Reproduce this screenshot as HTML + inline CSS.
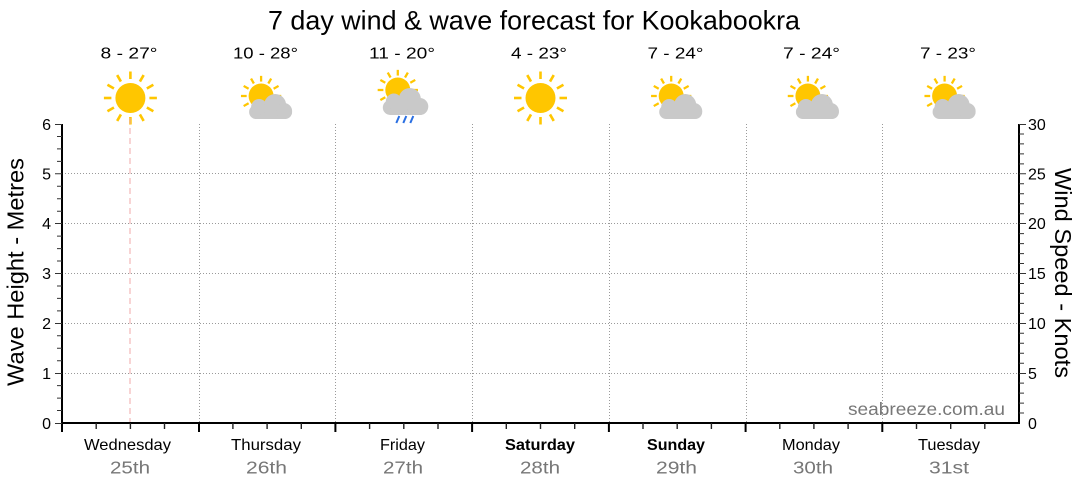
<!DOCTYPE html>
<html>
<head>
<meta charset="utf-8">
<style>
html,body{margin:0;padding:0;background:#fff;}
svg{display:block;}
text{font-family:"Liberation Sans",Arial,sans-serif;}
</style>
</head>
<body>
<svg width="1080" height="490" viewBox="0 0 1080 490" xmlns="http://www.w3.org/2000/svg">
<defs>
  <g id="rays">
    <line x1="0" y1="-19" x2="0" y2="-26.5"/>
    <line x1="0" y1="-19" x2="0" y2="-26.5" transform="rotate(30)"/>
    <line x1="0" y1="-19" x2="0" y2="-26.5" transform="rotate(60)"/>
    <line x1="0" y1="-19" x2="0" y2="-26.5" transform="rotate(90)"/>
    <line x1="0" y1="-19" x2="0" y2="-26.5" transform="rotate(120)"/>
    <line x1="0" y1="-19" x2="0" y2="-26.5" transform="rotate(150)"/>
    <line x1="0" y1="-19" x2="0" y2="-26.5" transform="rotate(180)"/>
    <line x1="0" y1="-19" x2="0" y2="-26.5" transform="rotate(210)"/>
    <line x1="0" y1="-19" x2="0" y2="-26.5" transform="rotate(240)"/>
    <line x1="0" y1="-19" x2="0" y2="-26.5" transform="rotate(270)"/>
    <line x1="0" y1="-19" x2="0" y2="-26.5" transform="rotate(300)"/>
    <line x1="0" y1="-19" x2="0" y2="-26.5" transform="rotate(330)"/>
  </g>
  <g id="sun">
    <g stroke="#ffc600" stroke-width="2.6"><use href="#rays"/></g>
    <circle cx="0" cy="0" r="15" fill="#ffc600"/>
  </g>
  <g id="smallsun">
    <g transform="scale(0.76)" stroke="#ffc600" stroke-width="3"><use href="#rays"/></g>
    <circle cx="0" cy="0" r="12.5" fill="#ffc600"/>
  </g>
  <g id="partly">
    <use href="#smallsun" transform="translate(-6,96)"/>
    <g fill="#c9c9c9">
      <rect x="-18" y="105" width="43" height="14" rx="7"/>
      <circle cx="-8" cy="107" r="8"/>
      <circle cx="8" cy="105" r="11"/>
      <circle cx="17" cy="111" r="8"/>
    </g>
  </g>
  <g id="rain">
    <use href="#smallsun" transform="translate(-6,90)"/>
    <g fill="#c9c9c9">
      <rect x="-21" y="100" width="45" height="15" rx="7.5"/>
      <circle cx="-10" cy="101.5" r="8"/>
      <circle cx="6" cy="99" r="11"/>
      <circle cx="16" cy="106.5" r="8.5"/>
    </g>
    <g stroke="#2a6fe2" stroke-width="2">
      <line x1="-4.5" y1="116" x2="-7.5" y2="123"/>
      <line x1="2.5" y1="116" x2="-0.5" y2="123"/>
      <line x1="9.5" y1="116" x2="6.5" y2="123"/>
    </g>
  </g>
</defs>

<!-- Title -->
<text x="534" y="29.5" font-size="26.5" text-anchor="middle" textLength="532" lengthAdjust="spacingAndGlyphs" fill="#000">7 day wind &amp; wave forecast for Kookabookra</text>

<!-- Temps -->
<g font-size="16" fill="#000" text-anchor="middle">
  <text x="129" y="58.5" textLength="57" lengthAdjust="spacingAndGlyphs">8 - 27°</text>
  <text x="265.5" y="58.5" textLength="65" lengthAdjust="spacingAndGlyphs">10 - 28°</text>
  <text x="402" y="58.5" textLength="66" lengthAdjust="spacingAndGlyphs">11 - 20°</text>
  <text x="539" y="58.5" textLength="56" lengthAdjust="spacingAndGlyphs">4 - 23°</text>
  <text x="675.5" y="58.5" textLength="56" lengthAdjust="spacingAndGlyphs">7 - 24°</text>
  <text x="811.5" y="58.5" textLength="57" lengthAdjust="spacingAndGlyphs">7 - 24°</text>
  <text x="948" y="58.5" textLength="56" lengthAdjust="spacingAndGlyphs">7 - 23°</text>
</g>

<!-- Icons -->
<use href="#sun" transform="translate(130.4,98)"/>
<use href="#partly" transform="translate(267.1,0)"/>
<use href="#rain" transform="translate(403.8,0)"/>
<use href="#sun" transform="translate(540.5,98)"/>
<use href="#partly" transform="translate(677.2,0)"/>
<use href="#partly" transform="translate(813.9,0)"/>
<use href="#partly" transform="translate(950.6,0)"/>

<!-- Grid -->
<g stroke="#9a9a9a" stroke-width="1" stroke-dasharray="1,2" fill="none">
  <path d="M62 373.5H1019M62 323.5H1019M62 273.5H1019M62 223.5H1019M62 173.5H1019"/>
  <path d="M199.5 124V423M335.5 124V423M472.5 124V423M609.5 124V423M746.5 124V423M882.5 124V423"/>
</g>

<!-- Pink dashed current line -->
<line x1="130" y1="118" x2="130" y2="423" stroke="#f2a9a9" stroke-width="1" stroke-dasharray="6,4"/>

<!-- Axes -->
<g stroke="#000" stroke-width="2" fill="none">
  <path d="M62 124V432"/>
  <path d="M1019 124V424"/>
  <path d="M61 423H1020"/>
  <path d="M199 423V432M335.4 423V432M472.1 423V432M608.9 423V432M745.6 423V432M882.3 423V432"/>
</g>
<g stroke="#222" stroke-width="1.4" fill="none">
  <!-- x minor ticks -->
  <path d="M96.2 423V429M130.4 423V429M164.5 423V429M232.9 423V429M267.1 423V429M301.3 423V429M369.6 423V429M403.8 423V429M438 423V429M506.3 423V429M540.5 423V429M574.7 423V429M643 423V429M677.2 423V429M711.4 423V429M779.8 423V429M813.9 423V429M848.1 423V429M916.5 423V429M950.7 423V429M984.8 423V429"/>
</g>
<g stroke="#333" stroke-width="1" fill="none">
  <!-- left ticks -->
  <path d="M55 423.5H62M55 373.5H62M55 323.5H62M55 273.5H62M55 223.5H62M55 173.8H62M55 124.5H62"/>
  <path d="M57 410.5H62M57 398.1H62M57 385.6H62M57 360.7H62M57 348.3H62M57 335.8H62M57 310.9H62M57 298.4H62M57 286H62M57 261H62M57 248.6H62M57 236.1H62M57 211.2H62M57 198.8H62M57 186.3H62M57 161.4H62M57 148.9H62M57 136.5H62"/>
  <!-- right ticks -->
  <path d="M1019 373.5H1026M1019 323.5H1026M1019 273.5H1026M1019 223.5H1026M1019 173.8H1026M1019 124.5H1026"/>
  <path d="M1019 413H1024M1019 403.1H1024M1019 393.1H1024M1019 383.1H1024M1019 363.2H1024M1019 353.2H1024M1019 343.3H1024M1019 333.3H1024M1019 313.4H1024M1019 303.4H1024M1019 293.4H1024M1019 283.5H1024M1019 263.5H1024M1019 253.6H1024M1019 243.6H1024M1019 233.6H1024M1019 213.7H1024M1019 203.7H1024M1019 193.8H1024M1019 183.8H1024M1019 163.9H1024M1019 153.9H1024M1019 143.9H1024M1019 134H1024"/>
</g>

<!-- Left tick labels -->
<g font-size="16" fill="#000" text-anchor="end">
  <text x="51" y="429">0</text>
  <text x="51" y="379">1</text>
  <text x="51" y="329">2</text>
  <text x="51" y="279">3</text>
  <text x="51" y="229">4</text>
  <text x="51" y="179.5">5</text>
  <text x="51" y="130">6</text>
</g>
<!-- Right tick labels -->
<g font-size="16" fill="#000" text-anchor="start">
  <text x="1028" y="429">0</text>
  <text x="1028" y="379">5</text>
  <text x="1028" y="329">10</text>
  <text x="1028" y="279">15</text>
  <text x="1028" y="229">20</text>
  <text x="1028" y="179.5">25</text>
  <text x="1028" y="130">30</text>
</g>

<!-- Axis titles -->
<text transform="translate(23.5,272) rotate(-90)" font-size="23.5" text-anchor="middle" textLength="228" lengthAdjust="spacingAndGlyphs" fill="#000">Wave Height - Metres</text>
<text transform="translate(1055,273) rotate(90)" font-size="23.5" text-anchor="middle" textLength="210" lengthAdjust="spacingAndGlyphs" fill="#000">Wind Speed - Knots</text>

<!-- Watermark -->
<text x="848" y="415" font-size="17.5" fill="#777" textLength="157" lengthAdjust="spacingAndGlyphs">seabreeze.com.au</text>

<!-- Day labels -->
<g font-size="16" fill="#000" text-anchor="middle">
  <text x="127.5" y="450" textLength="87" lengthAdjust="spacingAndGlyphs">Wednesday</text>
  <text x="266" y="450" textLength="70" lengthAdjust="spacingAndGlyphs">Thursday</text>
  <text x="402.5" y="450" textLength="45" lengthAdjust="spacingAndGlyphs">Friday</text>
  <text x="540" y="450" font-weight="bold" textLength="70" lengthAdjust="spacingAndGlyphs">Saturday</text>
  <text x="676" y="450" font-weight="bold" textLength="58" lengthAdjust="spacingAndGlyphs">Sunday</text>
  <text x="811" y="450" textLength="58" lengthAdjust="spacingAndGlyphs">Monday</text>
  <text x="949" y="450" textLength="62" lengthAdjust="spacingAndGlyphs">Tuesday</text>
</g>
<g font-size="17.5" fill="#777" text-anchor="middle">
  <text x="130" y="473.5" textLength="40" lengthAdjust="spacingAndGlyphs">25th</text>
  <text x="266.5" y="473.5" textLength="41" lengthAdjust="spacingAndGlyphs">26th</text>
  <text x="403" y="473.5" textLength="40" lengthAdjust="spacingAndGlyphs">27th</text>
  <text x="540" y="473.5" textLength="40" lengthAdjust="spacingAndGlyphs">28th</text>
  <text x="676.5" y="473.5" textLength="41" lengthAdjust="spacingAndGlyphs">29th</text>
  <text x="813" y="473.5" textLength="40" lengthAdjust="spacingAndGlyphs">30th</text>
  <text x="949" y="473.5" textLength="40" lengthAdjust="spacingAndGlyphs">31st</text>
</g>
</svg>
</body>
</html>
